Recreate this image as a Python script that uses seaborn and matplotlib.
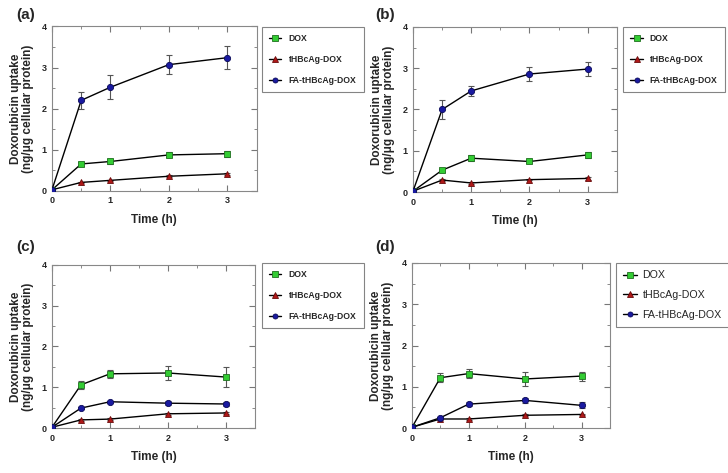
import numpy as np
import matplotlib
matplotlib.use('Agg')
import matplotlib.pyplot as plt
import seaborn as sns
from matplotlib.ticker import MultipleLocator

# ======= data =======
time_h = [0, 0.5, 1, 2, 3]
series_names = ['DOX', 'tHBcAg-DOX', 'FA-tHBcAg-DOX']
panel_labels = ['(a)', '(b)', '(c)', '(d)']

# (a)
a_dox = [0.02, 0.65, 0.71, 0.87, 0.90]
a_dox_err = [0, 0.05, 0.05, 0.06, 0.07]
a_thb = [0.02, 0.20, 0.25, 0.35, 0.41]
a_thb_err = [0, 0.02, 0.02, 0.03, 0.03]
a_fa = [0.02, 2.20, 2.52, 3.07, 3.24]
a_fa_err = [0, 0.20, 0.29, 0.24, 0.28]
# (b)
b_dox = [0.02, 0.53, 0.82, 0.74, 0.90]
b_dox_err = [0, 0.04, 0.07, 0.04, 0.07]
b_thb = [0.02, 0.29, 0.22, 0.30, 0.33]
b_thb_err = [0, 0.02, 0.02, 0.02, 0.04]
b_fa = [0.02, 2.00, 2.45, 2.86, 2.98]
b_fa_err = [0, 0.22, 0.13, 0.18, 0.16]
# (c)
c_dox = [0.02, 1.06, 1.33, 1.35, 1.25]
c_dox_err = [0, 0.10, 0.10, 0.16, 0.25]
c_thb = [0.02, 0.20, 0.22, 0.35, 0.37]
c_thb_err = [0, 0.02, 0.02, 0.02, 0.03]
c_fa = [0.02, 0.49, 0.645, 0.61, 0.59]
c_fa_err = [0, 0.02, 0.03, 0.05, 0.04]
# (d)
d_dox = [0.02, 1.22, 1.32, 1.19, 1.26]
d_dox_err = [0, 0.11, 0.11, 0.16, 0.11]
d_thb = [0.02, 0.22, 0.22, 0.31, 0.33]
d_thb_err = [0, 0.02, 0.02, 0.02, 0.02]
d_fa = [0.02, 0.25, 0.58, 0.67, 0.55]
d_fa_err = [0, 0.02, 0.04, 0.06, 0.07]

panels = [
    [(a_dox, a_dox_err), (a_thb, a_thb_err), (a_fa, a_fa_err)],
    [(b_dox, b_dox_err), (b_thb, b_thb_err), (b_fa, b_fa_err)],
    [(c_dox, c_dox_err), (c_thb, c_thb_err), (c_fa, c_fa_err)],
    [(d_dox, d_dox_err), (d_thb, d_thb_err), (d_fa, d_fa_err)],
]

sns.set_style('ticks')
plt.rcParams['font.family'] = ['Liberation Sans', 'DejaVu Sans']

styles = [
    dict(marker='s', mfc='#33cc33', mec='#1f6f1f', ms=5),
    dict(marker='^', mfc='#b01818', mec='#6a0a0a', ms=5),
    dict(marker='o', mfc='#1a1aa0', mec='#0a0a5a', ms=4.5),
]

fig = plt.figure(figsize=(7.28, 4.73), dpi=100)

# axes rectangles and legend anchors (figure fraction)
ax_rects = [
    [0.0714, 0.597, 0.281, 0.347],
    [0.5673, 0.594, 0.280, 0.349],
    [0.0714, 0.095, 0.279, 0.345],
    [0.566, 0.095, 0.272, 0.349],
]
leg_anchor = [(0.360, 0.943), (0.856, 0.943), (0.360, 0.444), (0.846, 0.444)]
label_pos = [(0.022, 0.968), (0.515, 0.968), (0.022, 0.478), (0.515, 0.478)]

for i, rect in enumerate(ax_rects):
    ax = fig.add_axes(rect)
    for (vals, errs), name, st in zip(panels[i], series_names, styles):
        ax.errorbar(time_h, vals, yerr=errs, fmt='none', ecolor='#555555',
                    elinewidth=0.8, capsize=2.2, capthick=0.8, zorder=2)
        sns.lineplot(x=time_h, y=vals, ax=ax, color='black', lw=1.0,
                     marker=st['marker'], markerfacecolor=st['mfc'],
                     markeredgecolor=st['mec'], markersize=st['ms'],
                     markeredgewidth=0.6, label=name, zorder=3)
    ax.set_xlim(0, 3.5)
    ax.set_ylim(0, 4)
    ax.set_xticks([0, 1, 2, 3])
    ax.set_yticks([0, 1, 2, 3, 4])
    ax.xaxis.set_minor_locator(MultipleLocator(0.5))
    ax.yaxis.set_minor_locator(MultipleLocator(0.5))
    ax.tick_params(which='both', direction='in', top=True, right=True,
                   color='#777777', labelsize=6.5, pad=4)
    ax.tick_params(which='major', length=4)
    ax.tick_params(which='minor', length=2.5)
    for lab in ax.get_xticklabels() + ax.get_yticklabels():
        lab.set_fontweight('bold')
    for sp in ax.spines.values():
        sp.set_color('#888888')
        sp.set_linewidth(0.8)
    ax.set_xlabel('Time (h)', fontsize=8.5, fontweight='bold', labelpad=6)
    ax.set_ylabel('Doxorubicin uptake\n(ng/μg cellular protein)', fontsize=8.5,
                  fontweight='bold', labelpad=5, linespacing=1.0)
    if i < 3:
        leg_kw = dict(handlelength=1.4, labelspacing=1.35, borderpad=0.85,
                      handletextpad=0.85, borderaxespad=0,
                      prop=dict(size=6.2, weight='bold'))
    else:
        leg_kw = dict(handlelength=1.3, labelspacing=0.9, borderpad=0.7,
                      handletextpad=0.5, borderaxespad=0,
                      prop=dict(size=7.7, weight='normal'))
    leg = ax.legend(loc='upper left', bbox_to_anchor=leg_anchor[i],
                    bbox_transform=fig.transFigure, frameon=True,
                    fancybox=False, edgecolor='#666666', markerscale=0.8,
                    **leg_kw)
    leg.get_frame().set_linewidth(0.8)
    fig.text(label_pos[i][0], label_pos[i][1], panel_labels[i], fontsize=11,
             fontweight='bold', ha='left', va='center')

plt.savefig('out.png', dpi=100)
